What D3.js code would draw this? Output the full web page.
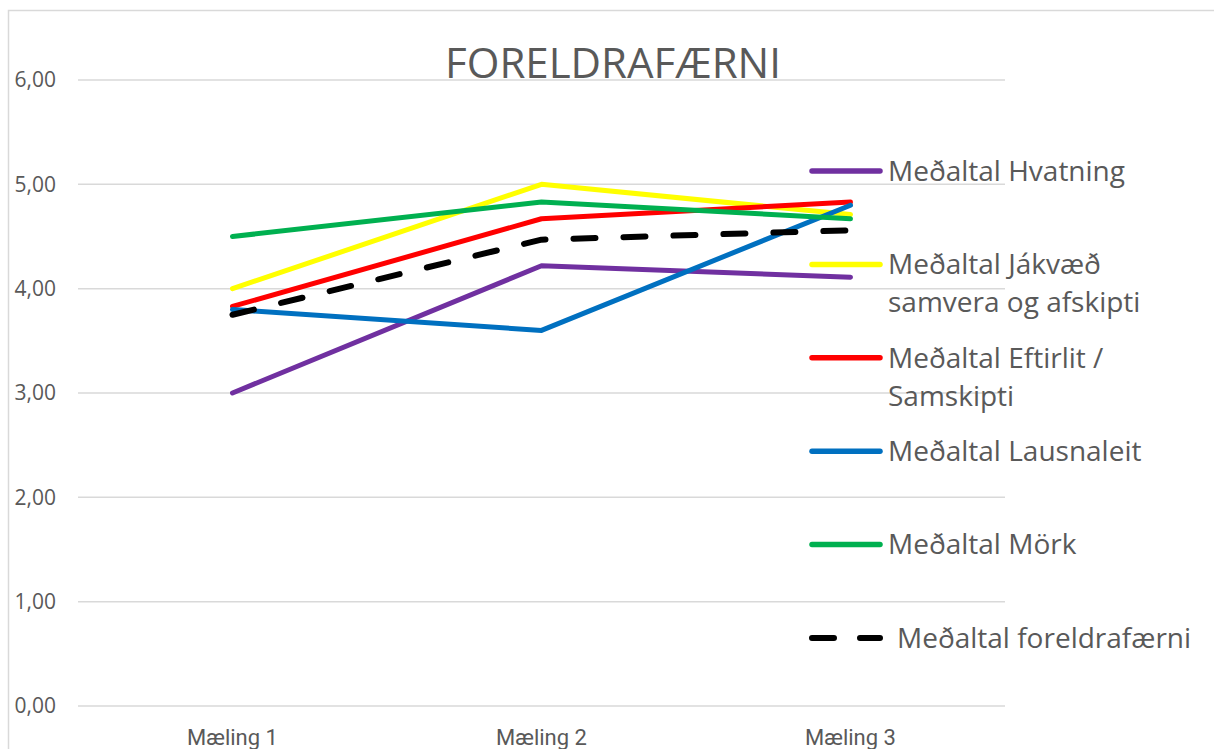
<!DOCTYPE html>
<html>
<head>
<meta charset="utf-8">
<script src="https://cdn.jsdelivr.net/npm/d3@7"></script>
<style>
  body { margin: 0; background: #fff; }
  svg { display: block; }
</style>
</head>
<body>
<div id="chart"></div>
<script>
const categories = ["Mæling 1", "Mæling 2", "Mæling 3"];
const yTicks = [0, 1, 2, 3, 4, 5, 6];

const seriesNames = [
    "Meðaltal Hvatning",
    "Meðaltal Jákvæð samvera og afskipti",
    "Meðaltal Eftirlit / Samskipti",
    "Meðaltal Lausnaleit",
    "Meðaltal Mörk",
    "Meðaltal foreldrafærni"
];
const hvatning = [3.00, 4.22, 4.11];
const jakvaed = [4.00, 5.00, 4.71];
const eftirlit = [3.83, 4.67, 4.83];
const lausnaleit = [3.80, 3.60, 4.80];
const mork = [4.50, 4.83, 4.67];
const foreldrafaerni = [3.75, 4.47, 4.56];

const seriesColors = ["#7030A0", "#FFFF00", "#FF0000", "#0070C0", "#00B050", "#000000"];

const seriesData = [hvatning, jakvaed, eftirlit, lausnaleit, mork, foreldrafaerni];

const width = 1214;
const height = 749;
const font = "'Open Sans', 'Noto Sans', Arial, sans-serif";
const textColor = "#595959";
const gridColor = "#d9d9d9";

const svg = d3.select("#chart")
    .append("svg")
    .attr("width", width)
    .attr("height", height);

// chart frame
svg.append("rect")
    .attr("x", 8.5)
    .attr("y", 10.5)
    .attr("width", width + 20)
    .attr("height", height + 20)
    .attr("fill", "none")
    .attr("stroke", gridColor)
    .attr("stroke-width", 1.5);

const plotLeft = 78, plotRight = 1005;

const x = d3.scaleBand()
    .domain(categories)
    .range([plotLeft, plotRight]);

const y = d3.scaleLinear()
    .domain([0, 6])
    .range([706, 80]);

// gridlines
svg.append("g")
    .selectAll("line")
    .data(yTicks)
    .enter()
    .append("line")
    .attr("x1", plotLeft)
    .attr("x2", plotRight)
    .attr("y1", d => y(d))
    .attr("y2", d => y(d))
    .attr("stroke", gridColor)
    .attr("stroke-width", 1.5);

// y labels
const yAxis = svg.append("g")
    .attr("transform", `translate(56,0)`)
    .call(d3.axisLeft(y).tickValues(yTicks).tickSize(0).tickPadding(0)
        .tickFormat(d => d3.format(".2f")(d).replace(".", ",")));
yAxis.select(".domain").remove();
yAxis.selectAll("text")
    .attr("fill", textColor)
    .style("font-family", font)
    .style("font-size", "21px");

// x labels
const xAxis = svg.append("g")
    .attr("transform", `translate(0,${y(0)})`)
    .call(d3.axisBottom(x).tickSize(0).tickPadding(23));
xAxis.select(".domain").remove();
xAxis.selectAll("text")
    .attr("fill", textColor)
    .style("font-family", "Roboto, sans-serif")
    .style("font-size", "22px");

// title
svg.append("text")
    .attr("x", 613)
    .attr("y", 78)
    .attr("text-anchor", "middle")
    .attr("fill", textColor)
    .style("font-family", font)
    .style("font-size", "42px")
    .text("FORELDRAFÆRNI");

// lines
const line = d3.line()
    .x((d, i) => x(categories[i]) + x.bandwidth() / 2)
    .y(d => y(d));

seriesData.forEach((values, i) => {
    const path = svg.append("path")
        .datum(values)
        .attr("d", line)
        .attr("fill", "none")
        .attr("stroke", seriesColors[i])
        .attr("stroke-width", 5)
        .attr("stroke-linecap", "round")
        .attr("stroke-linejoin", "round");
    if (i === 5) path.attr("stroke-dasharray", "22,28").attr("stroke-width", 6);
});

// legend
const legend = svg.append("g");
seriesNames.forEach((name, i) => {
    const ly = 171 + i * 93.4;
    const item = legend.append("g");
    const sample = item.append("line")
        .attr("x1", 812)
        .attr("x2", 880)
        .attr("y1", ly)
        .attr("y2", ly)
        .attr("stroke", seriesColors[i])
        .attr("stroke-width", 5.5)
        .attr("stroke-linecap", "round");
    if (i === 5) sample.attr("stroke-dasharray", "22,26").attr("stroke-width", 6);

    const tx = i === 5 ? 897 : 888;
    const text = item.append("text")
        .attr("x", tx)
        .attr("y", ly)
        .attr("fill", textColor)
        .style("font-family", font)
        .style("font-size", "28px");

    // wrap words to fit
    const words = name.split(" ");
    let lineNo = 0;
    let tspan = text.append("tspan").attr("x", tx).attr("y", ly).attr("dy", "0.35em");
    let current = [];
    words.forEach(w => {
        current.push(w);
        tspan.text(current.join(" "));
        if (tspan.node().getComputedTextLength() > 315 && current.length > 1) {
            current.pop();
            tspan.text(current.join(" "));
            current = [w];
            lineNo++;
            tspan = text.append("tspan").attr("x", tx).attr("y", ly + lineNo * 38).attr("dy", "0.35em").text(w);
        }
    });
});
</script>
</body>
</html>
